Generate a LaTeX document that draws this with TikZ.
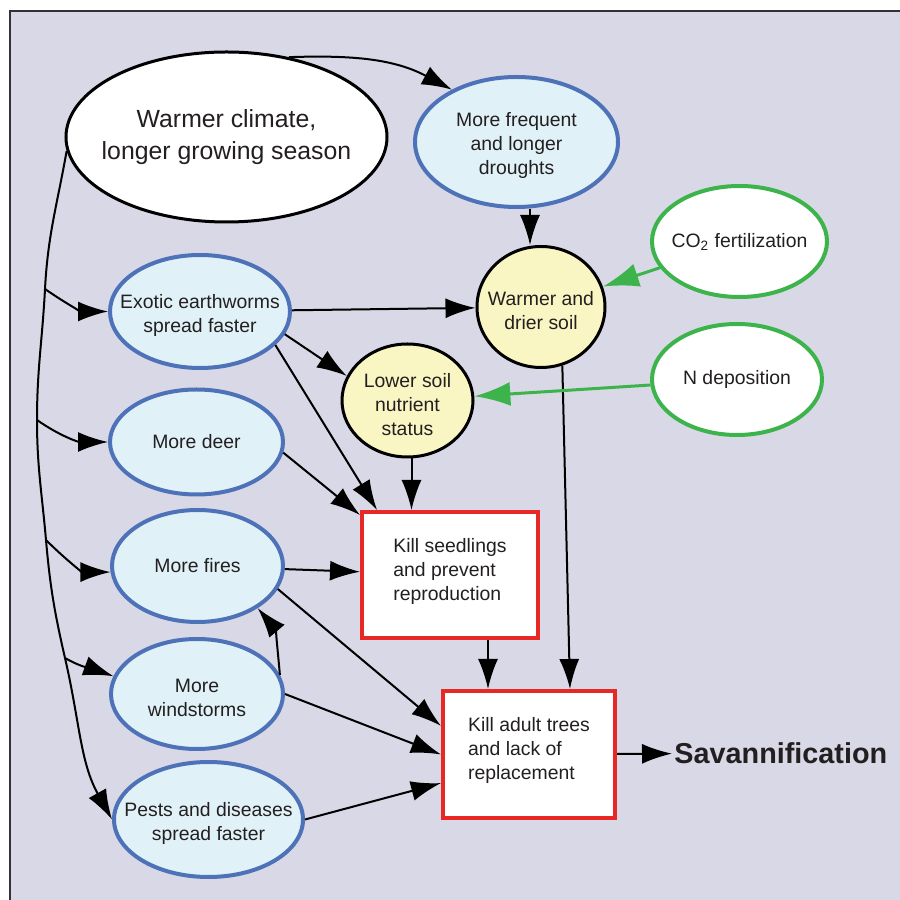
\documentclass[tikz,border=0pt]{standalone}
\usepackage{fontspec}
\setmainfont{Liberation Sans}
\usetikzlibrary{shapes.geometric,arrows.meta}
\definecolor{bgcol}{HTML}{D9D8E6}
\definecolor{txtcol}{HTML}{231F20}
\definecolor{bluecol}{HTML}{4E72B8}
\definecolor{bluefill}{HTML}{E1F1F8}
\definecolor{yellowfill}{HTML}{FAF6C4}
\definecolor{redcol}{HTML}{E82824}
\definecolor{greencol}{HTML}{3CB44B}

\begin{document}
\begin{tikzpicture}[x=0.5pt,y=0.5pt,
    every node/.style={text=txtcol,font=\fontsize{9.7}{12}\selectfont,align=center,inner sep=0pt},
    cause/.style={ellipse,draw=bluecol,line width=2pt,fill=bluefill},
    soilnode/.style={ellipse,draw=black,line width=1.5pt,fill=yellowfill},
    extern/.style={ellipse,draw=greencol,line width=2pt,fill=white},
    effect/.style={rectangle,draw=redcol,line width=2pt,fill=white,align=left},
    twolines/.style={label={[yshift=-2pt]center:{#1}}},
    link/.style={draw=black,line width=1pt,-{Latex[length=15pt,width=10pt]}},
    greenlink/.style={draw=greencol,line width=1.5pt,-{Latex[length=18pt,width=12pt]}}]

    \useasboundingbox (0,0) rectangle (900,900);
    \fill[white] (0,0) rectangle (900,900);
    \fill[bgcol] (10,0) rectangle (900,889);
    \draw[line width=0.75pt,black!80] (10,0) -- (10,889) -- (900,889);

    \node[ellipse,draw=black,line width=1.5pt,fill=white,minimum width=160.5pt,minimum height=85pt,
      label={[font=\fontsize{12.4}{16}\selectfont]center:{Warmer climate,\\longer growing season}}] (clim) at (226.5,763) {};
    \node[cause,minimum width=101.5pt,minimum height=65pt,
      twolines={More frequent\\and longer\\droughts}] (drought) at (516.5,758) {};
    \node[extern,minimum width=87.5pt,minimum height=55.5pt,
      label=center:{CO\textsubscript{2} fertilization}] (co2) at (739.5,658.5) {};
    \node[soilnode,minimum width=64pt,minimum height=60.5pt,
      twolines={Warmer and\\drier soil}] (soil) at (541,593) {};
    \node[extern,minimum width=85pt,minimum height=55.5pt,
      label=center:{N deposition}] (ndep) at (737,520.5) {};
    \node[soilnode,minimum width=65.5pt,minimum height=56.5pt,
      twolines={Lower soil\\nutrient\\status}] (nutr) at (407.5,499.5) {};
    \node[cause,minimum width=90pt,minimum height=56.5pt,
      twolines={Exotic earthworms\\spread faster}] (earth) at (200,588.5) {};
    \node[cause,minimum width=86.5pt,minimum height=52.5pt,
      label=center:{More deer}] (deer) at (196.5,458) {};
    \node[cause,minimum width=85.5pt,minimum height=56pt,
      label=center:{More fires}] (fires) at (197.5,334) {};
    \node[cause,minimum width=86pt,minimum height=55pt,
      twolines={More\\windstorms}] (wind) at (197,206) {};
    \node[cause,minimum width=94.5pt,minimum height=57.5pt,
      twolines={Pests and diseases\\spread faster}] (pests) at (208.5,80.5) {};
    \node[effect,minimum width=88pt,minimum height=63pt] (seed) at (450,325) {Kill seedlings\\and prevent\\reproduction\rule[-6pt]{0pt}{6pt}};
    \node[effect,minimum width=86pt,minimum height=63.5pt] (adult) at (529,145.5) {Kill adult trees\\and lack of\\replacement\rule[-6pt]{0pt}{6pt}};
    \node[anchor=west,inner sep=1pt,font=\bfseries\fontsize{14.4}{17}\selectfont] (sav) at (672,147) {Savannification};

    \coordinate (b1) at (45,611);
    \coordinate (b2) at (37,480);
    \coordinate (b3) at (46,360);
    \coordinate (b4) at (65,242);

    \draw[link] (clim.185) to[out=-100,in=87] (b1) to[out=-93,in=90] (b2) to[out=-90,in=95] (b3)
      to[out=-85,in=103] (b4) to[out=-77,in=119] (pests.west);
    \draw[link] (b1) to[out=-35,in=180] (earth.west);
    \draw[link] (b2) to[out=-35,in=180] (deer.west);
    \draw[link] (b3) to[out=-45,in=180] (fires.184);
    \draw[link] (b4) to[out=-30,in=160] (wind.168);
    \draw[link] (clim.52) to[out=2,in=152] (drought.141);

    \draw[link] ([xshift=6.75pt]drought.south) -- ([xshift=6.75pt]drought.south |- soil.north);
    \draw[link] (earth) -- (soil);
    \draw[link] (earth.-15) -- (nutr.158);
    \draw[link] (earth.-24) -- ([xshift=-36.5pt]seed.north);
    \draw[link] (deer.-7) -- ([yshift=-2.5pt]seed.north west);
    \draw[link] ([xshift=2pt]nutr.south) -- ([xshift=2pt]nutr.south |- seed.north);
    \draw[link] (fires) -- (seed);
    \draw[link] (fires.-16) -- (adult.162);
    \draw[link] (wind.13) to[out=95,in=-50] (fires.-35);
    \draw[link] (wind.east) -- (adult.west);
    \draw[link] (pests.east) -- (adult.198);
    \draw[link] ([xshift=19pt]seed.south) -- ([xshift=19pt]seed.south |- adult.north);
    \draw[link] (soil.-70) -- ([xshift=20.5pt]adult.north);
    \draw[link] (adult) -- (sav);
    \draw[greenlink] (co2) -- (soil);
    \draw[greenlink] (ndep) -- (nutr);
\end{tikzpicture}
\end{document}
